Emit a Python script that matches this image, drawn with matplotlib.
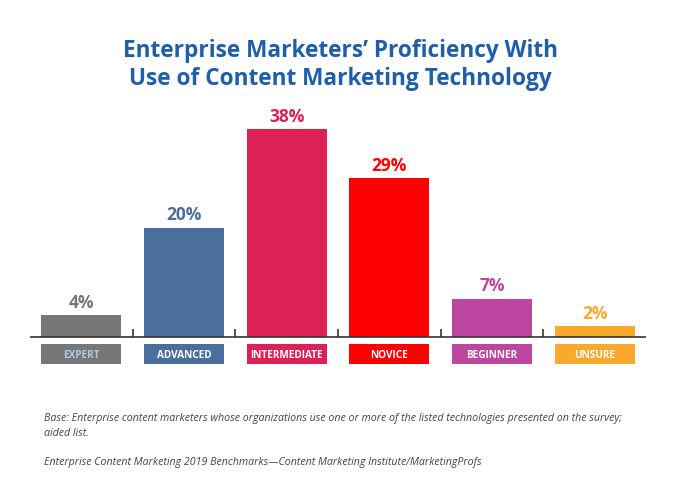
import matplotlib.pyplot as plt

categories = ["EXPERT", "ADVANCED", "INTERMEDIATE", "NOVICE", "BEGINNER", "UNSURE"]
values = [4, 20, 38, 29, 7, 2]
colors = ["#777777", "#4a6f9c", "#dc2157", "#ff0000", "#bd47a0", "#f9a92c"]
label_text_colors = ["#a9cbe8", "white", "white", "white", "white", "white"]
title = "Enterprise Marketers\u2019 Proficiency With\nUse of Content Marketing Technology"
note1 = "Base: Enterprise content marketers whose organizations use one or more of the listed technologies presented on the survey;\naided list."
note2 = "Enterprise Content Marketing 2019 Benchmarks\u2014Content Marketing Institute/MarketingProfs"

W, H = 681, 485
fig = plt.figure(figsize=(W / 100, H / 100), dpi=100)
# axes: x from 30 to 646 px, y from 110 to 370 px (top-down)
ax = fig.add_axes([30 / W, 1 - 370 / H, 616 / W, 260 / H])
ax.set_xlim(-0.5, 5.5)
ax.set_ylim(-5.85, 41.7)
ax.axis("off")

x = range(len(categories))
ax.bar(x, values, width=0.78, color=colors, zorder=2)
ax.axhline(0, color="#333333", lw=1.2, zorder=3)
ax.vlines([i + 0.5 for i in range(len(categories) - 1)], 0, 1.5, color="#333333", lw=1.2)

for i, v in enumerate(values):
    ax.text(i, v + 0.8, f"{v}%", ha="center", va="bottom", fontsize=12.5,
            fontweight="bold", color=colors[i], family="Open Sans")

# category boxes below the axis
ax.bar(x, -3.66, bottom=-1.28, width=0.78, color=colors, clip_on=False)
for i, c in enumerate(categories):
    ax.text(i, -3.11, c, ha="center", va="center", fontsize=7.2, fontweight="bold",
            color=label_text_colors[i], family="Open Sans")

fig.text(0.5, 1 - 65 / H, title, ha="center", va="center", fontsize=16.3,
         fontweight="bold", color="#1f5ea8", family="Open Sans", linespacing=1.2)
fig.text(44 / W, 1 - 426 / H, note1, ha="left", va="center", fontsize=7.7,
         style="italic", color="#444444", family="Open Sans", linespacing=1.5)
fig.text(44 / W, 1 - 463 / H, note2, ha="left", va="center", fontsize=7.7,
         style="italic", color="#444444", family="Open Sans")

fig.savefig("out.png", dpi=100, facecolor="white")
